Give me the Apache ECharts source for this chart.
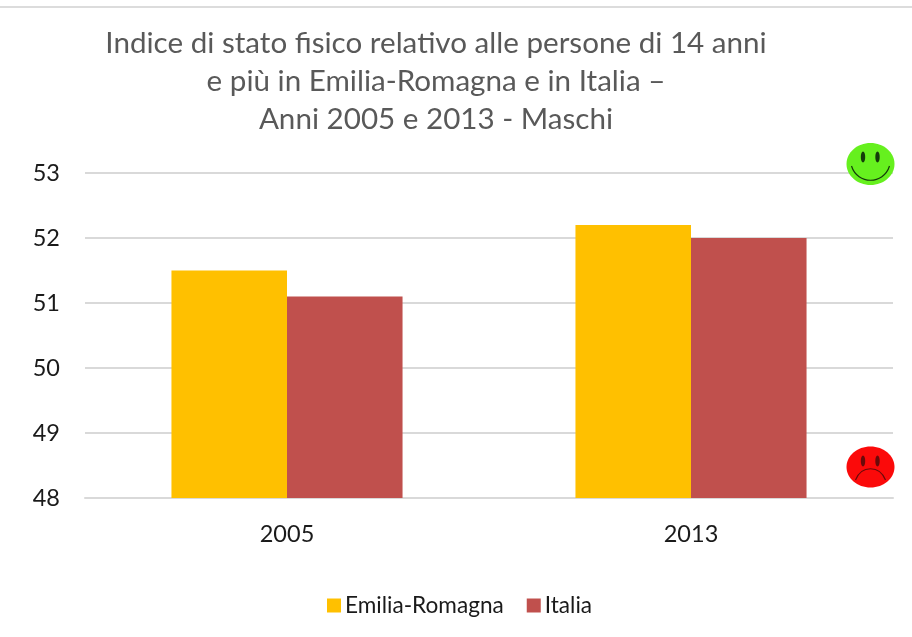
<!DOCTYPE html>
<html><head><meta charset="utf-8">
<style>html,body{margin:0;padding:0;background:#fff}#c{width:912px;height:637px}</style>
<script src="https://cdn.jsdelivr.net/npm/echarts@6/dist/echarts.min.js"></script>
</head><body><div id="c"></div>
<script>
const categories = ['2005', '2013'];
const emiliaRomagna = [51.5, 52.2];
const italia = [51.1, 52.0];
const yTicks = {min: 48, max: 53, interval: 1};
const titleLines = ['Indice di stato fisico relativo alle persone di 14 anni', 'e più in Emilia-Romagna e in Italia –', 'Anni 2005 e 2013 - Maschi'];
const FONT = 'Lato,"Open Sans",sans-serif';

function face(cx, cy, ry, fill, ink, eyeY, mouth) {
  return {type: 'group', x: cx, y: cy, silent: true, children: [
    {type: 'ellipse', z: 100, shape: {cx: 0, cy: 0, rx: 24, ry}, style: {fill}},
    {type: 'ellipse', z: 101, shape: {cx: -7.5, cy: eyeY, rx: 2.2, ry: 5.5}, style: {fill: ink}},
    {type: 'ellipse', z: 101, shape: {cx: 7, cy: eyeY, rx: 2.2, ry: 5.5}, style: {fill: ink}},
    {type: 'bezierCurve', z: 101, shape: mouth, style: {fill: 'none', stroke: ink, lineWidth: 1.2}}
  ]};
}

const chart = echarts.init(document.getElementById('c'), null, {renderer: 'canvas'});
chart.setOption({
  animation: false,
  backgroundColor: '#fff',
  color: ['#FFC000', '#C0504D'],
  title: {
    text: titleLines.join('\n'), left: 431, top: 19, textAlign: 'center',
    textStyle: {fontFamily: FONT, fontSize: 29.6, fontWeight: 'normal', color: '#595959', lineHeight: 38}
  },
  legend: {
    top: 589, left: 322, itemWidth: 14, itemHeight: 14, itemGap: 23,
    icon: 'rect',
    textStyle: {fontFamily: FONT, fontSize: 22.6, color: '#1a1a1a', padding: [0, 0, 0, -1]},
    data: ['Emilia-Romagna', 'Italia']
  },
  grid: {left: 85, right: 19, top: 173, bottom: 139, containLabel: false},
  xAxis: {
    type: 'category', data: categories,
    axisLine: {lineStyle: {color: '#d9d9d9', width: 2}}, axisTick: {show: false},
    axisLabel: {fontFamily: FONT, fontSize: 23.5, color: '#1a1a1a', margin: 24}
  },
  yAxis: {
    type: 'value', min: yTicks.min, max: yTicks.max, interval: yTicks.interval,
    axisLine: {show: false}, axisTick: {show: false},
    splitLine: {lineStyle: {color: '#d9d9d9', width: 2}},
    axisLabel: {fontFamily: FONT, fontSize: 23.5, color: '#1a1a1a', margin: 25}
  },
  series: [
    {name: 'Emilia-Romagna', type: 'bar', data: emiliaRomagna, barGap: 0, barCategoryGap: '42.8%'},
    {name: 'Italia', type: 'bar', data: italia}
  ],
  graphic: [
    {type: 'rect', shape: {x: 0, y: 6, width: 912, height: 2}, style: {fill: '#dcdcdc'}, silent: true},
    face(870.5, 164, 21, '#66f01e', '#143c0a', -7, {x1: -19, y1: 2, x2: 19, y2: 2, cpx1: -13, cpy1: 21, cpx2: 13, cpy2: 21}),
    face(870.5, 467, 20.5, '#fb0a0a', '#6a0a0a', -6, {x1: -15, y1: 13, x2: 15, y2: 13, cpx1: -9, cpy1: -2, cpx2: 9, cpy2: -2})
  ]
});
</script></body></html>
